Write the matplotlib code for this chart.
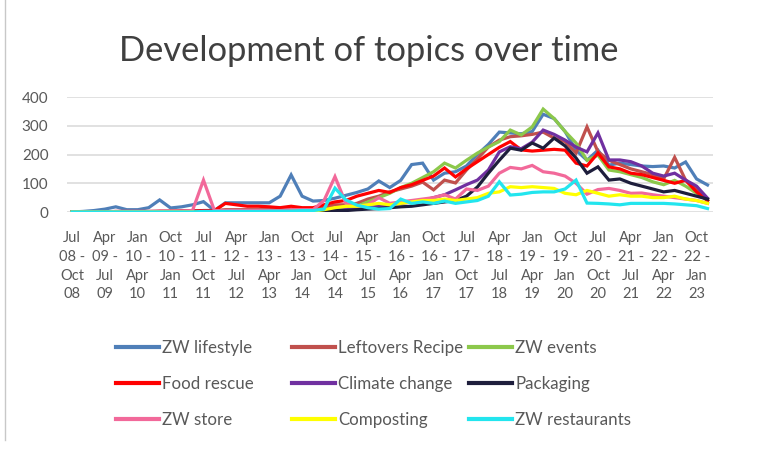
import matplotlib
matplotlib.use("Agg")
import matplotlib.pyplot as plt
from matplotlib.lines import Line2D

# ── Data (quarterly counts, Jul 08 - Oct 08 ... Jan 23 - Apr 23) ─────────────
PERIOD_LABELS = [
    "Jul\n08 -\nOct\n08", "Apr\n09 -\nJul\n09", "Jan\n10 -\nApr\n10",
    "Oct\n10 -\nJan\n11", "Jul\n11 -\nOct\n11", "Apr\n12 -\nJul\n12",
    "Jan\n13 -\nApr\n13", "Oct\n13 -\nJan\n14", "Jul\n14 -\nOct\n14",
    "Apr\n15 -\nJul\n15", "Jan\n16 -\nApr\n16", "Oct\n16 -\nJan\n17",
    "Jul\n17 -\nOct\n17", "Apr\n18 -\nJul\n18", "Jan\n19 -\nApr\n19",
    "Oct\n19 -\nJan\n20", "Jul\n20 -\nOct\n20", "Apr\n21 -\nJul\n21",
    "Jan\n22 -\nApr\n22", "Oct\n22 -\nJan\n23",
]
LABEL_EVERY = 3

zw_lifestyle = [0, 2, 5, 10, 18, 8, 8, 15, 42, 14, 18, 25, 36, 5, 32, 32, 32, 32, 32, 55,
                129, 55, 38, 40, 48, 58, 68, 80, 108, 85,
                110, 165, 170, 111, 135, 140, 160, 200, 235, 278, 275, 272, 280, 340, 325,
                280, 215, 180, 215, 163, 170, 165, 160, 158, 160, 153, 174, 115, 94]
leftovers = [0, 0, 0, 0, 2, 2, 2, 2, 3, 3, 3, 4, 5, 5, 8, 8, 8, 8, 8, 8,
             10, 10, 12, 15, 25, 25, 30, 45, 55, 70,
             80, 90, 104, 77, 111, 101, 146, 185, 226, 250, 262, 265, 270, 278, 257,
             245, 205, 296, 210, 180, 165, 150, 140, 130, 115, 190, 111, 80, 40]
zw_events = [0, 0, 0, 0, 0, 0, 0, 0, 0, 2, 2, 2, 2, 2, 3, 3, 3, 3, 3, 3,
             5, 5, 5, 5, 8, 10, 20, 35, 50, 65,
             85, 100, 120, 140, 170, 153, 180, 205, 226, 245, 285, 268, 296, 358, 325,
             280, 240, 180, 198, 146, 140, 130, 120, 105, 95, 110, 90, 65, 40]
food_rescue = [0, 0, 0, 0, 0, 0, 0, 0, 2, 2, 3, 3, 5, 5, 30, 25, 20, 20, 18, 15,
               20, 15, 15, 25, 35, 40, 55, 65, 75, 68,
               85, 95, 110, 125, 153, 122, 150, 175, 200, 225, 245, 216, 212, 215, 218,
               215, 170, 160, 205, 157, 150, 135, 130, 120, 110, 100, 110, 70, 40]
climate = [0, 0, 0, 0, 0, 0, 0, 0, 0, 0, 2, 2, 2, 2, 3, 3, 3, 3, 3, 3,
           5, 5, 5, 5, 5, 8, 10, 15, 20, 25,
           30, 35, 40, 50, 60, 77, 95, 111, 146, 209, 227, 220, 243, 285, 270,
           250, 226, 209, 275, 181, 181, 175, 160, 135, 125, 135, 111, 90, 48]
packaging = [0, 0, 0, 0, 0, 0, 0, 0, 0, 0, 0, 0, 0, 0, 2, 2, 2, 2, 2, 2,
             3, 3, 3, 3, 5, 5, 8, 10, 12, 15,
             18, 20, 25, 30, 35, 40, 55, 87, 135, 180, 222, 215, 240, 222, 257,
             230, 188, 135, 157, 111, 115, 100, 90, 80, 70, 75, 65, 55, 45]
zw_store = [0, 0, 0, 0, 2, 2, 2, 2, 3, 3, 3, 5, 111, 5, 5, 5, 5, 5, 5, 5,
            8, 8, 8, 40, 123, 30, 20, 25, 50, 30,
            35, 40, 45, 50, 60, 45, 80, 75, 90, 135, 155, 150, 162, 140, 135,
            125, 100, 62, 78, 82, 75, 65, 66, 60, 55, 50, 45, 40, 30]
composting = [0, 0, 0, 0, 0, 0, 0, 0, 0, 0, 0, 0, 0, 0, 0, 0, 0, 0, 0, 0,
              2, 2, 3, 8, 15, 20, 20, 25, 30, 25,
              30, 35, 40, 40, 45, 40, 45, 50, 65, 70, 88, 85, 88, 85, 82,
              65, 60, 75, 65, 55, 60, 55, 55, 50, 50, 55, 45, 40, 30]
zw_restaurants = [0, 0, 0, 0, 0, 0, 0, 0, 0, 0, 0, 0, 2, 2, 2, 2, 2, 2, 3, 3,
                  3, 5, 5, 10, 83, 42, 24, 15, 10, 12,
                  45, 30, 35, 30, 38, 30, 35, 40, 55, 105, 59, 62, 68, 70, 70,
                  80, 111, 31, 30, 28, 25, 30, 30, 30, 30, 28, 25, 22, 12]

SERIES_NAMES = ["ZW lifestyle", "Leftovers Recipe", "ZW events",
                "Food rescue", "Climate change", "Packaging",
                "ZW store", "Composting", "ZW restaurants"]
SERIES_VALUES = [zw_lifestyle, leftovers, zw_events,
                 food_rescue, climate, packaging,
                 zw_store, composting, zw_restaurants]

# ── Style ────────────────────────────────────────────────────────────────────
COLORS = ["#4f7fb8", "#c0504d", "#8cc84b",
          "#ff0000", "#7030a0", "#1e1e3c",
          "#f2699a", "#ffff00", "#22e5ee"]
TEXT = "#595959"
GRID = "#d9d9d9"
FONT = "Lato"

plt.rcParams["font.family"] = [FONT, "DejaVu Sans"]

W, H = 757, 459
fig = plt.figure(figsize=(W / 100, H / 100), dpi=100)
fig.patch.set_facecolor("white")

# axes placed in pixel terms
left, right, top, bottom = 66.5, 713.0, 97.0, 212.0
ax = fig.add_axes([left / W, 1 - bottom / H, (right - left) / W, (bottom - top) / H])

n = len(zw_lifestyle)
x = list(range(n))
lines = []
for name, vals, col in zip(SERIES_NAMES, SERIES_VALUES, COLORS):
    ln, = ax.plot(x, vals, color=col, lw=2.3, label=name, solid_joinstyle="miter")
    lines.append(ln)

ax.set_xlim(-0.5, n - 0.5)
ax.set_ylim(0, 400)
ax.set_yticks([0, 100, 200, 300, 400])
ax.yaxis.grid(True, color=GRID, lw=1.1)
ax.set_axisbelow(True)
for s in ax.spines.values():
    s.set_visible(False)
ax.tick_params(axis="y", length=0, pad=13, labelsize=11, labelcolor=TEXT)

tick_pos = list(range(0, n, LABEL_EVERY))[:len(PERIOD_LABELS)]
ax.set_xticks(tick_pos)
ax.set_xticklabels(PERIOD_LABELS, linespacing=1.42)
ax.tick_params(axis="x", length=0, pad=14, labelsize=10.5, labelcolor=TEXT)

# title
fig.text(369 / W, 1 - 61 / H, "Development of topics over time",
         ha="center", va="baseline", fontsize=24.8, color="#404040")

# legend: three columns, filled row-wise like the original
col_x = [116, 292, 469]
for c in range(3):
    hs = [lines[r * 3 + c] for r in range(3)]
    leg = fig.legend(handles=hs, labels=[h.get_label() for h in hs],
                     loc="upper left", bbox_to_anchor=(col_x[c] / W, 1 - 340 / H),
                     frameon=False, fontsize=12.2, handlelength=2.55,
                     handletextpad=0.18, labelspacing=1.17,
                     borderpad=0, borderaxespad=0)
    for t in leg.get_texts():
        t.set_color(TEXT)
    for lh in leg.get_lines():
        lh.set_linewidth(3)

# faint frame line on the left edge
fig.add_artist(Line2D([5 / W, 5 / W], [1 - 440 / H, 1.0], color="#c8c8c8",
                      lw=1, transform=fig.transFigure))

fig.savefig("out.png", dpi=100, facecolor="white")
